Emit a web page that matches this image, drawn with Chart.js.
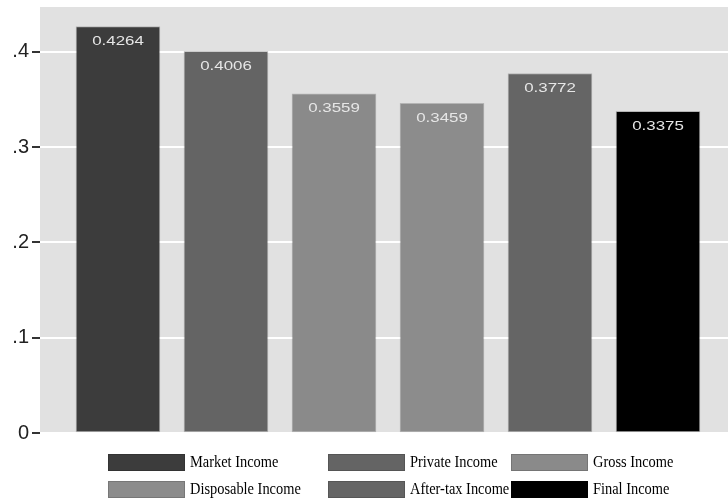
<!DOCTYPE html>
<html>
<head>
<meta charset="utf-8">
<script src="https://cdn.jsdelivr.net/npm/chart.js@4/dist/chart.umd.min.js"></script>
<style>
  html, body { margin: 0; padding: 0; background: #fff; }
  #wrap { width: 728px; height: 499px; position: relative; }
</style>
</head>
<body>
<div id="wrap"><canvas id="chart"></canvas></div>
<script>
// Gini coefficient by income stage
const categories = ['Market Income', 'Private Income', 'Gross Income', 'Disposable Income', 'After-tax Income', 'Final Income'];
const gini = [0.4264, 0.4006, 0.3559, 0.3459, 0.3772, 0.3375];
const barColors = ['#3c3c3c', '#646464', '#8a8a8a', '#8c8c8c', '#656565', '#000000'];
const yTicks = [0, 0.1, 0.2, 0.3, 0.4];

// gray plot region
const plotBg = {
  id: 'plotBg',
  beforeDraw(chart) {
    const { ctx, chartArea: a } = chart;
    ctx.save();
    ctx.fillStyle = '#fff';
    ctx.fillRect(0, 0, chart.width, chart.height);
    ctx.fillStyle = '#e1e1e1';
    ctx.fillRect(a.left, a.top, a.right - a.left, a.bottom - a.top);
    ctx.restore();
  }
};

// value written inside the top of each bar
const barValues = {
  id: 'barValues',
  afterDatasetsDraw(chart) {
    const ctx = chart.ctx;
    const meta = chart.getDatasetMeta(0);
    ctx.save();
    ctx.fillStyle = '#e6e6e6';
    ctx.font = '13px "Liberation Sans", Arial, sans-serif';
    ctx.textAlign = 'center';
    ctx.textBaseline = 'middle';
    meta.data.forEach((bar, i) => {
      ctx.save();
      ctx.translate(bar.x, bar.y + 15);
      ctx.scale(1.3, 1);
      ctx.fillText(gini[i].toFixed(4), 0, 0);
      ctx.restore();
    });
    ctx.restore();
  }
};

// 3 x 2 legend under the plot
const gridLegend = {
  id: 'gridLegend',
  afterDraw(chart) {
    const ctx = chart.ctx;
    const colX = [108, 328, 511];
    const rowY = [454, 481];
    ctx.save();
    ctx.font = '16px "Liberation Serif", "Times New Roman", serif';
    ctx.textBaseline = 'middle';
    ctx.textAlign = 'left';
    categories.forEach((name, i) => {
      const x = colX[i % 3];
      const y = rowY[Math.floor(i / 3)];
      ctx.fillStyle = barColors[i];
      ctx.fillRect(x, y, 77, 17);
      ctx.strokeStyle = 'rgba(0,0,0,0.15)';
      ctx.lineWidth = 1;
      ctx.strokeRect(x + 0.5, y + 0.5, 76, 16);
      ctx.fillStyle = '#000';
      ctx.save();
      ctx.translate(x + 82, y + 9);
      ctx.scale(0.9, 1);
      ctx.fillText(name, 0, 0);
      ctx.restore();
    });
    ctx.restore();
  }
};

new Chart(document.getElementById('chart'), {
  type: 'bar',
  data: {
    datasets: [{
      label: 'Gini',
      data: gini.map((v, i) => ({ x: i + 1, y: v })),
      backgroundColor: barColors,
      borderColor: 'rgba(0,0,0,0.2)',
      borderWidth: 1,
      borderSkipped: false,
      barThickness: 84
    }]
  },
  options: {
    responsive: true,
    maintainAspectRatio: false,
    animation: false,
    layout: { padding: { top: 7, bottom: 66, left: 0, right: 0 } },
    plugins: {
      legend: { display: false },
      tooltip: { enabled: false }
    },
    scales: {
      x: {
        type: 'linear',
        display: false,
        offset: false,
        min: 0.278,
        max: 6.648
      },
      y: {
        min: 0,
        max: 0.447,
        border: { display: false },
        grid: {
          color: '#ffffff',
          lineWidth: 2,
          tickColor: '#333',
          tickWidth: 2,
          tickLength: 8
        },
        ticks: {
          stepSize: 0.1,
          includeBounds: false,
          padding: 3,
          color: '#222',
          font: { family: '"Liberation Sans", Arial, sans-serif', size: 20 },
          callback: v => {
            const t = yTicks.find(k => Math.abs(k - v) < 1e-9);
            if (t === undefined) return '';
            return t === 0 ? '0' : t.toFixed(1).replace(/^0/, '');
          }
        },
        afterFit(scale) {
          scale.width = 40;
          scale.paddingTop = 0;
          scale.paddingBottom = 0;
        }
      }
    }
  },
  plugins: [plotBg, barValues, gridLegend]
});
</script>
</body>
</html>
